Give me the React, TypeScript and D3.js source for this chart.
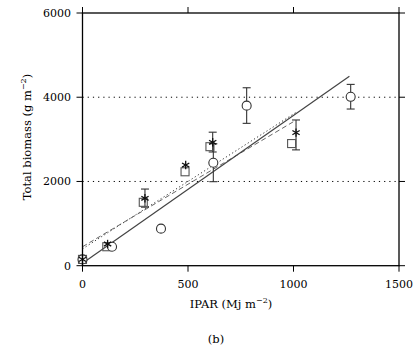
import React from "react";
import * as d3 from "d3";

const xTicks = [0, 500, 1000, 1500];
const yTicks = [0, 2000, 4000, 6000];
const gridY = [2000, 4000];

const circleX = [0, 140, 372, 620, 778, 1271];
const circleY = [150, 450, 880, 2445, 3800, 4010];
const circleLo = [null, null, null, 1995, 3380, 3720];
const circleHi = [null, null, null, 2895, 4225, 4305];

const squareX = [0, 115, 288, 486, 604, 991];
const squareY = [150, 450, 1505, 2230, 2826, 2900];

const starX = [0, 119, 296, 489, 617, 1012];
const starY = [150, 515, 1600, 2390, 2930, 3160];
const starLo = [null, null, 1390, null, 2700, 2750];
const starHi = [null, null, 1820, null, 3170, 3460];

const solidLine = [[0, 60], [1265, 4500]];
const dashedLine = [[0, 450], [1000, 3420]];
const dottedLine = [[0, 400], [1015, 3650]];

const W = 413, H = 347;
const L = 82.5, R = 399, T = 13, B = 265.7;
const font = "'DejaVu Serif', 'Liberation Serif', serif";

export default function App() {
  const x = d3.scaleLinear().domain([0, 1500]).range([L, R]);
  const y = d3.scaleLinear().domain([0, 6000]).range([B, T]);
  const line = d3.line<number[]>().x(d => x(d[0])).y(d => y(d[1]));
  const cap = 4;

  const errBar = (xv: number, lo: number | null, hi: number | null, key: string) => {
    if (lo == null || hi == null) return null;
    const px = x(xv);
    return (
      <g key={key} stroke="#333" strokeWidth={1.1}>
        <line x1={px} x2={px} y1={y(lo)} y2={y(hi)} />
        <line x1={px - cap} x2={px + cap} y1={y(lo)} y2={y(lo)} />
        <line x1={px - cap} x2={px + cap} y1={y(hi)} y2={y(hi)} />
      </g>
    );
  };

  const star = (cx: number, cy: number, k: string) => {
    const r = 4.2;
    const arms = [90, 30, 150].map(a => (a * Math.PI) / 180);
    return (
      <g key={k} stroke="#111" strokeWidth={1.3}>
        {arms.map((a, i) => (
          <line key={i} x1={cx - r * Math.cos(a)} y1={cy - r * Math.sin(a)} x2={cx + r * Math.cos(a)} y2={cy + r * Math.sin(a)} />
        ))}
      </g>
    );
  };

  return (
    <svg width={W} height={H} style={{ position: "absolute", left: 0, top: 0, background: "#fff" }} fontFamily={font}>
      {gridY.map(v => (
        <line key={v} x1={L} x2={R} y1={y(v)} y2={y(v)} stroke="#000" strokeWidth={1} strokeDasharray="1.2,4" />
      ))}
      <path d={line(dottedLine) || ""} fill="none" stroke="#333" strokeWidth={1} strokeDasharray="1.2,2.5" />
      <path d={line(dashedLine) || ""} fill="none" stroke="#666" strokeWidth={1} strokeDasharray="5,3" />
      <path d={line(solidLine) || ""} fill="none" stroke="#444" strokeWidth={1.2} />
      {circleX.map((v, i) => errBar(v, circleLo[i], circleHi[i], "ce" + i))}
      {starX.map((v, i) => errBar(v, starLo[i], starHi[i], "se" + i))}
      {squareX.map((v, i) => (
        <rect key={"s" + i} x={x(v) - 4} y={y(squareY[i]) - 4} width={8} height={8} fill="none" stroke="#555" strokeWidth={1.1} />
      ))}
      {circleX.map((v, i) => (
        <circle key={"c" + i} cx={x(v)} cy={y(circleY[i])} r={4.5} fill="#fff" stroke="#333" strokeWidth={1.1} />
      ))}
      {starX.map((v, i) => star(x(v), y(starY[i]), "st" + i))}
      <rect x={L} y={T} width={R - L} height={B - T} fill="none" stroke="#000" strokeWidth={1.3} />
      {xTicks.map(v => (
        <g key={"xt" + v} stroke="#000" strokeWidth={1}>
          <line x1={x(v)} x2={x(v)} y1={B} y2={B + 6} />
          <line x1={x(v)} x2={x(v)} y1={T} y2={T - 6} />
        </g>
      ))}
      {yTicks.map(v => (
        <g key={"yt" + v} stroke="#000" strokeWidth={1}>
          <line x1={L} x2={L - 6} y1={y(v)} y2={y(v)} />
          <line x1={R} x2={R + 6} y1={y(v)} y2={y(v)} />
        </g>
      ))}
      {xTicks.map(v => (
        <text key={"xl" + v} x={x(v)} y={288} textAnchor="middle" fontSize={11}>{v}</text>
      ))}
      {yTicks.map(v => (
        <text key={"yl" + v} x={71} y={y(v) + 4} textAnchor="end" fontSize={11}>{v}</text>
      ))}
      <text x={231} y={308} textAnchor="middle" fontSize={11.5}>
        IPAR (Mj m<tspan dy={-5} fontSize={8}>−2</tspan><tspan dy={5}>)</tspan>
      </text>
      <text transform={`translate(31,137) rotate(-90)`} textAnchor="middle" fontSize={11.5}>
        Total biomass (g m<tspan dy={-5} fontSize={8}>−2</tspan><tspan dy={5}>)</tspan>
      </text>
      <text x={216} y={343} textAnchor="middle" fontSize={11.5}>(b)</text>
    </svg>
  );
}
